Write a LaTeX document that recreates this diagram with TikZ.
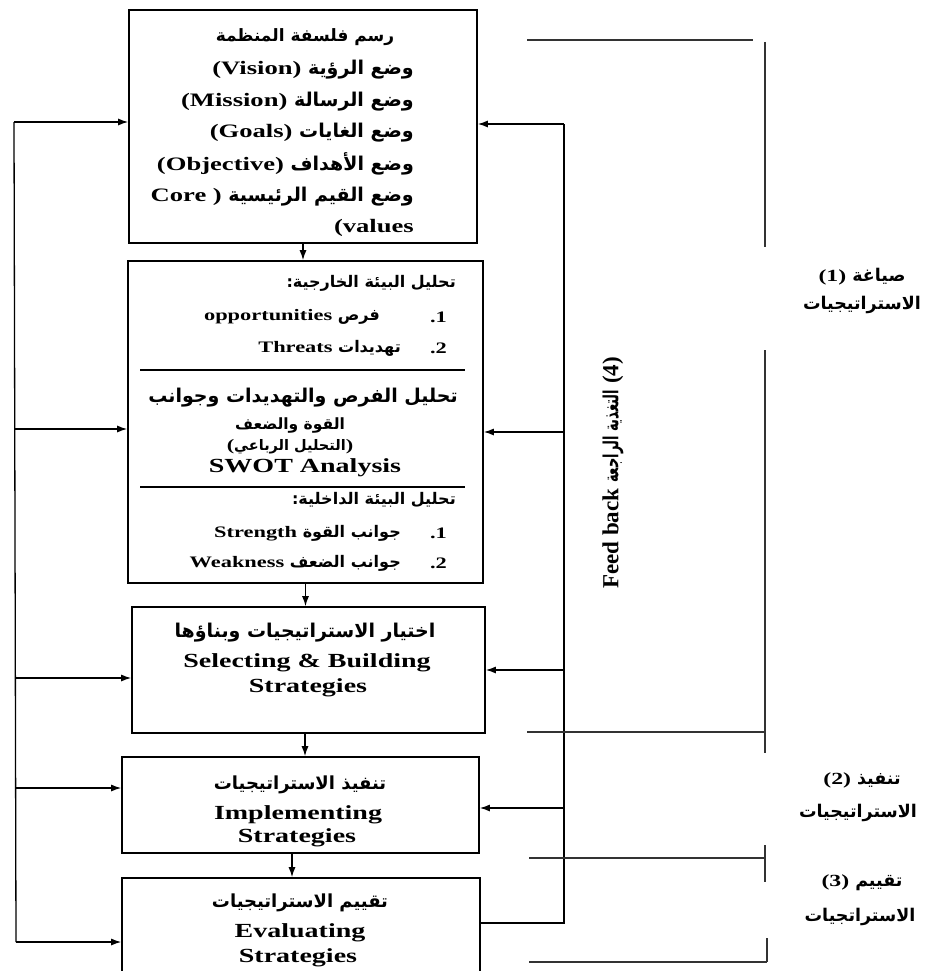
\documentclass[tikz,border=0pt]{standalone}
\usepackage{fontspec}
\setmainfont{Liberation Serif}[FakeStretch=1.4]
\newfontfamily\enrot{Liberation Serif}
\newfontfamily\arfont[Script=Arabic]{DejaVu Sans}
\TeXXeTstate=1
\newcommand\arb{\arfont\bfseries}
\newcommand\arf[1]{\fontsize{#1}{#1}\selectfont\arfont\bfseries}
\usetikzlibrary{arrows.meta}
\tikzset{
  box/.style={draw, line width=1.6pt, inner sep=0pt},
  lnk/.style={line width=1.3pt},
  arr/.style={lnk, -{Latex[length=10pt,width=7pt]}},
  brk/.style={line width=1.1pt, draw=black!80},
  divl/.style={line width=1.2pt},
  txt/.style={inner sep=0pt},
  fA/.style={font=\fontsize{19}{21}\selectfont\bfseries},
  fB/.style={font=\fontsize{16}{18}\selectfont\bfseries},
  fC/.style={font=\fontsize{20}{22}\selectfont\bfseries},
  fL/.style={font=\fontsize{17}{19}\selectfont\bfseries},
}
\begin{document}
\begin{tikzpicture}[x=1pt,y=-1pt]
\useasboundingbox (0,0) rectangle (924,971);
\clip (0,0) rectangle (924,971);
% boxes
\node[box, minimum width=348pt, minimum height=233pt] (b1) at (303,126.5) {};
\node[box, minimum width=355pt, minimum height=322pt] (b2) at (305.5,422) {};
\node[box, minimum width=353pt, minimum height=126pt] (b3) at (308.5,670) {};
\node[box, minimum width=357pt, minimum height=96pt] (b4) at (300.5,805) {};
\node[box, minimum width=358pt, minimum height=120pt] (b5) at (301,938) {};
% box 1 text
\node[txt,fA] (t1a) at (305,37) {{\arf{17}\beginR رسم فلسفة المنظمة\endR}};
\node[txt,fA,anchor=east] (t1b) at (414,70) {(Vision) {\arb\beginR وضع الرؤية\endR}};
\node[txt,fA,anchor=east] (t1c) at (414,102) {(Mission) {\arb\beginR وضع الرسالة\endR}};
\node[txt,fA,anchor=east] (t1d) at (414,133) {(Goals) {\arb\beginR وضع الغايات\endR}};
\node[txt,fA,anchor=east] (t1e) at (414,164) {(Objective) {\arb\beginR وضع الأهداف\endR}};
\node[txt,fA,anchor=east] (t1f) at (414,197) {Core ) {\arb\beginR وضع القيم الرئيسية\endR}};
\node[txt,fA,anchor=east] (t1g) at (414,228) {(values};
% box 2 text
\node[txt,fB,anchor=east] (t2a) at (456,283) {{\arb\beginR تحليل البيئة الخارجية:\endR}};
\node[txt,fB,anchor=east] (t2b) at (380,317) {opportunities {\arb\beginR فرص\endR}};
\node[txt,fB,anchor=east] (n2b) at (447,317) {.1};
\node[txt,fB,anchor=east] (t2c) at (401,348) {Threats {\arb\beginR تهديدات\endR}};
\node[txt,fB,anchor=east] (n2c) at (447,348) {.2};
\coordinate (d1a) at (140,370); \coordinate (d1b) at (465,370);
\draw[divl] (d1a) -- (d1b);
\node[txt,fB] (t2d) at (303,398) {{\arf{19}\beginR تحليل الفرص والتهديدات وجوانب\endR}};
\node[txt,fB] (t2e) at (290,425) {{\arf{15.5}\beginR القوة والضعف\endR}};
\node[txt,fB] (t2f) at (290,447) {({\arf{14.5}\beginR التحليل الرباعي\endR})};
\node[txt,fC] (t2g) at (305,468) {SWOT Analysis};
\coordinate (d2a) at (140,487); \coordinate (d2b) at (465,487);
\draw[divl] (d2a) -- (d2b);
\node[txt,fB,anchor=east] (t2h) at (456,500) {{\arb\beginR تحليل البيئة الداخلية:\endR}};
\node[txt,fB,anchor=east] (t2i) at (401,533) {Strength {\arb\beginR جوانب القوة\endR}};
\node[txt,fB,anchor=east] (n2i) at (447,533) {.1};
\node[txt,fB,anchor=east] (t2j) at (401,563) {Weakness {\arb\beginR جوانب الضعف\endR}};
\node[txt,fB,anchor=east] (n2j) at (447,563) {.2};
% box 3-5 text
\node[txt,fB] (t3a) at (305,633) {{\arf{19}\beginR اختيار الاستراتيجيات وبناؤها\endR}};
\node[txt,fC] (t3b) at (307,663) {Selecting \& Building};
\node[txt,fC] (t3c) at (308,688) {Strategies};
\node[txt,fB] (t4a) at (300,785) {{\arf{18}\beginR تنفيذ الاستراتيجيات\endR}};
\node[txt,fC] (t4b) at (298,815) {Implementing};
\node[txt,fC] (t4c) at (297,838) {Strategies};
\node[txt,fB] (t5a) at (300,903) {{\arf{18}\beginR تقييم الاستراتيجيات\endR}};
\node[txt,fC] (t5b) at (300,933) {Evaluating};
\node[txt,fC] (t5c) at (298,958) {Strategies};
% down arrows
\draw[arr] (b1.south) -- (b1.south |- b2.north);
\draw[arr] (b2.south) -- (b2.south |- b3.north);
\coordinate (a3) at ([xshift=-3.5pt]b3.south);
\draw[arr] (a3) -- (a3 |- b4.north);
\coordinate (a4) at ([xshift=-8.5pt]b4.south);
\draw[arr] (a4) -- (a4 |- b5.north);
% left feedback
\coordinate (L1) at (14,122); \coordinate (L2) at (14,429);
\coordinate (L3) at (15,678); \coordinate (L4) at (15,788);
\coordinate (L5) at (16,942);
\draw[lnk] (L1) -- (L5);
\draw[arr] (L1) -- (L1 -| b1.west);
\draw[arr] (L2) -- (L2 -| b2.west);
\draw[arr] (L3) -- (L3 -| b3.west);
\draw[arr] (L4) -- (L4 -| b4.west);
\draw[arr] (L5) -- (L5 -| b5.west);
% right feedback
\coordinate (R1) at (564,124); \coordinate (R2) at (564,432);
\coordinate (R3) at (564,670); \coordinate (R4) at (564,808);
\coordinate (R5) at (564,923);
\draw[lnk] (R5 -| b5.east) -- (R5) -- (R1);
\draw[arr] (R1) -- (R1 -| b1.east);
\draw[arr] (R2) -- (R2 -| b2.east);
\draw[arr] (R3) -- (R3 -| b3.east);
\draw[arr] (R4) -- (R4 -| b4.east);
\node[txt,rotate=90] (fb) at (613,473) {\enrot\fontsize{23}{25}\selectfont\bfseries Feed back \scalebox{1}[1.6]{\arf{13}\beginR التغذية الراجعة\endR} (4)};
% right brackets
\draw[brk] (527,40) -- (753,40);
\draw[brk] (765,42) -- (765,247);
\draw[brk] (765,350) -- (765,753);
\draw[brk] (527,732) -- (765,732);
\draw[brk] (529,858) -- (765,858);
\draw[brk] (765,845) -- (765,882);
\draw[brk] (529,962) -- (767,962);
\draw[brk] (767,938) -- (767,962);
\node[txt,fL] (l1a) at (862,277) {(1) {\arf{17.5}\beginR صياغة\endR}};
\node[txt,fL] (l1b) at (862,305) {{\arf{17.5}\beginR الاستراتيجيات\endR}};
\node[txt,fL] (l2a) at (862,780) {(2) {\arf{17.5}\beginR تنفيذ\endR}};
\node[txt,fL] (l2b) at (858,813) {{\arf{17.5}\beginR الاستراتيجيات\endR}};
\node[txt,fL] (l3a) at (862,883) {(3) {\arf{17.5}\beginR تقييم\endR}};
\node[txt,fL] (l3b) at (860,917) {{\arf{17.5}\beginR الاستراتجيات\endR}};
\end{tikzpicture}
\end{document}
